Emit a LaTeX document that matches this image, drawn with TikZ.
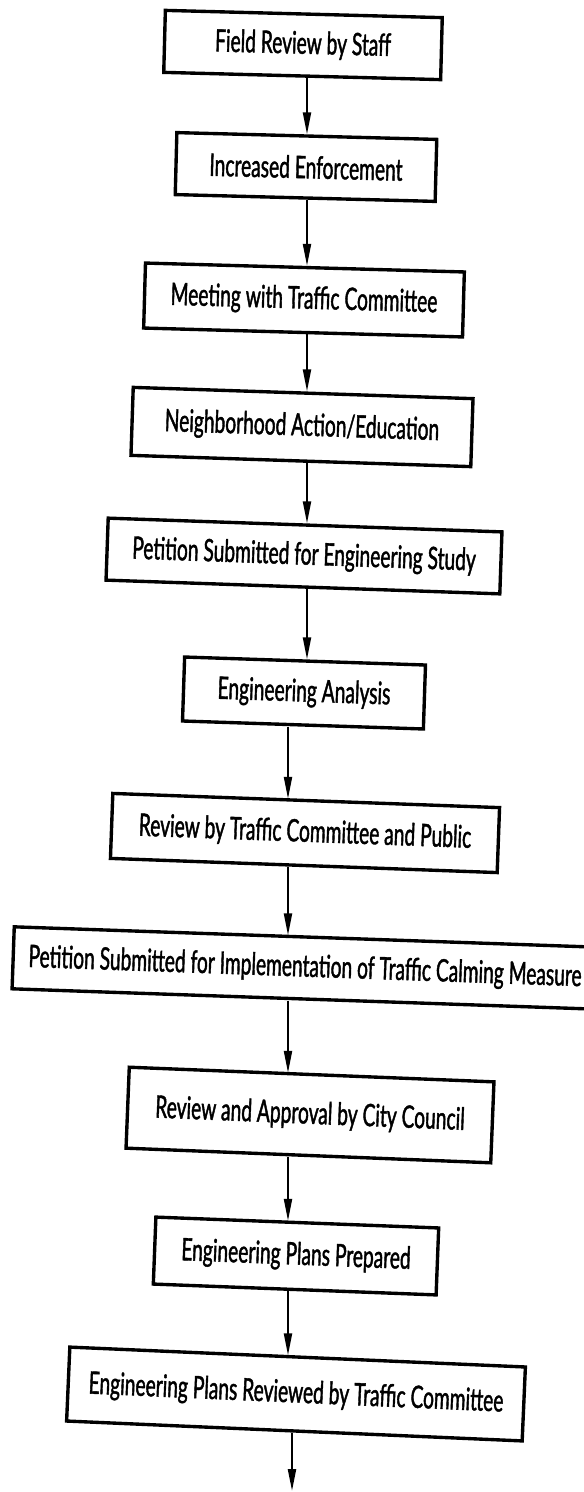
\documentclass[tikz,border=0pt]{standalone}
\usepackage{fontspec}
\newfontfamily\chartfont[FakeStretch=0.62,FakeBold=1.3]{Lato}
\usetikzlibrary{arrows.meta,positioning}
\newcommand{\pxl}{0.025cm}
\tikzset{
  stagebox/.style={
    draw,
    line width=2.4pt,
    inner sep=0pt,
    font=\chartfont\fontsize{22}{26}\selectfont
  },
  flowline/.style={
    line width=1.5pt,
    -{Triangle[length=0.55cm,width=0.2cm]}
  },
}

\begin{document}
\begin{tikzpicture}[x=\pxl,y=-\pxl]
  \useasboundingbox (0,0) rectangle (584,1492);

  \node[stagebox, minimum width=277*\pxl, minimum height=62*\pxl, rotate=-1.5] (field) at (303,45) {Field Review by Staff};
  \node[stagebox, minimum width=260*\pxl, minimum height=62*\pxl, rotate=-1.5] (enforce) at (306,167) {Increased Enforcement};
  \node[stagebox, minimum width=319*\pxl, minimum height=65*\pxl, rotate=-1.6] (meeting) at (304,300) {Meeting with Traffic Committee};
  \node[stagebox, minimum width=340*\pxl, minimum height=68*\pxl, rotate=-1.9] (hood) at (302,427) {Neighborhood Action/Education};
  \node[stagebox, minimum width=394*\pxl, minimum height=62*\pxl, rotate=-2.0] (petstudy) at (304,556) {Petition Submitted for Engineering Study};
  \node[stagebox, minimum width=241*\pxl, minimum height=64*\pxl, rotate=-1.9] (analysis) at (304,693) {Engineering Analysis};
  \node[stagebox, minimum width=387*\pxl, minimum height=65*\pxl, rotate=-2.1] (public) at (305,833) {Review by Traffic Committee and Public};
  \node[stagebox, minimum width=584*\pxl, minimum height=62*\pxl, rotate=-2.0] (petimpl) at (305,968) {Petition Submitted for Implementation of Traffic Calming Measure};
  \node[stagebox, minimum width=365*\pxl, minimum height=81*\pxl, rotate=-2.3] (council) at (310,1115) {Review and Approval by City Council};
  \node[stagebox, minimum width=283*\pxl, minimum height=67*\pxl, rotate=-2.2] (plans) at (296,1256) {Engineering Plans Prepared};
  \node[stagebox, minimum width=456*\pxl, minimum height=74*\pxl, rotate=-2.5] (planrev) at (296,1394) {Engineering Plans Reviewed by Traffic Committee};

  % arrow lanes
  \coordinate (laneA) at (307,0);
  \coordinate (laneB) at (288,0);
  \coordinate (tail) at (292,1491);

  \draw[flowline] (field.south -| laneA) -- (enforce.north -| laneA);
  \draw[flowline] (enforce.south -| laneA) -- (meeting.north -| laneA);
  \draw[flowline] (meeting.south -| laneA) -- (hood.north -| laneA);
  \draw[flowline] (hood.south -| laneA) -- (petstudy.north -| laneA);
  \draw[flowline] (petstudy.south -| laneA) -- (analysis.north -| laneA);
  \draw[flowline] (analysis.south -| laneB) -- (public.north -| laneB);
  \draw[flowline] (public.south -| laneB) -- (petimpl.north -| laneB);
  \draw[flowline] (petimpl.south -| laneB) -- (council.north -| laneB);
  \draw[flowline] (council.south -| laneB) -- (plans.north -| laneB);
  \draw[flowline] (plans.south -| laneB) -- (planrev.north -| laneB);
  \draw[flowline] (planrev.south -| tail) -- (tail);
\end{tikzpicture}
\end{document}
